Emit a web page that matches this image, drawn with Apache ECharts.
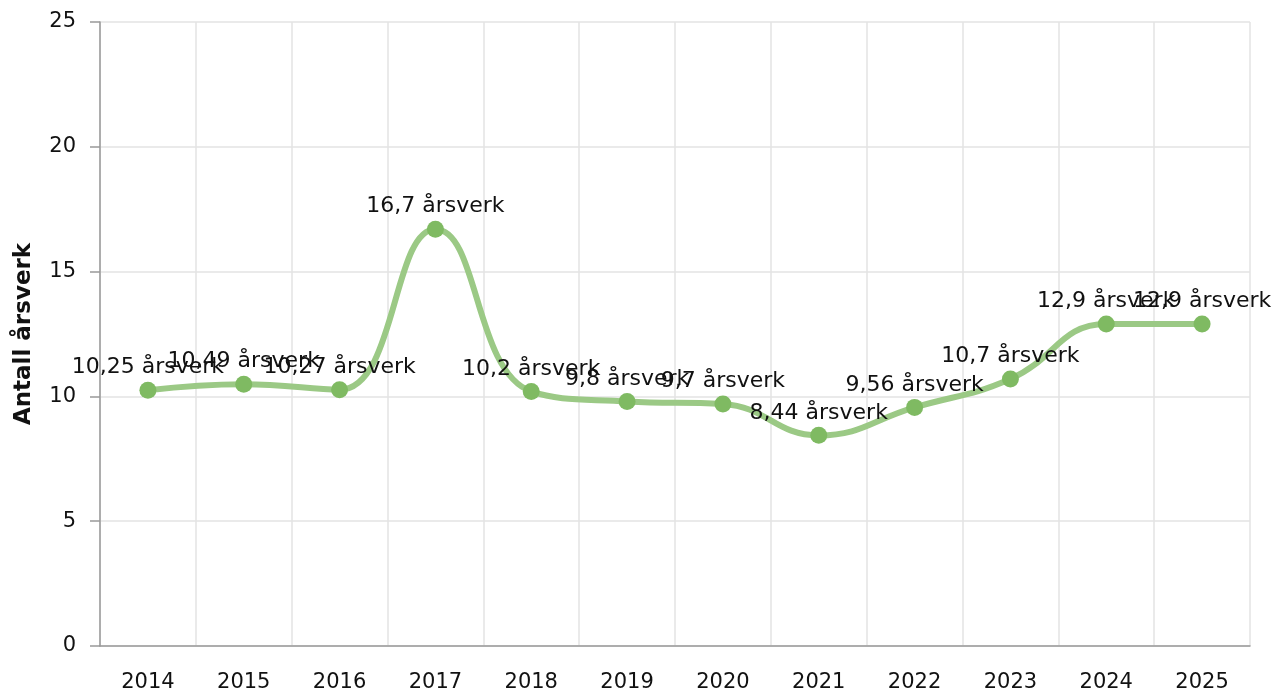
<!DOCTYPE html>
<html><head><meta charset="utf-8">
<script src="https://cdn.jsdelivr.net/npm/echarts@6/dist/echarts.min.js"></script>
<style>html,body{margin:0;padding:0;background:#fff}#c{width:1274px;height:693px}</style>
</head><body><div id="c"></div>
<script>
const years = ['2014','2015','2016','2017','2018','2019','2020','2021','2022','2023','2024','2025'];
const values = [10.25, 10.49, 10.27, 16.7, 10.2, 9.8, 9.7, 8.44, 9.56, 10.7, 12.9, 12.9];
const yTicks = [0, 5, 10, 15, 20, 25];
const unit = 'årsverk';
const yName = 'Antall årsverk';

const chart = echarts.init(document.getElementById('c'));
chart.setOption({
  animation: false,
  grid: {left: 100, right: 24, top: 22, bottom: 46},
  textStyle: {fontFamily: 'DejaVu Sans'},
  xAxis: {
    type: 'category', data: years, boundaryGap: true,
    axisLine: {lineStyle: {color: '#999', width: 1.5}},
    axisTick: {alignWithLabel: true, length: 9, lineStyle: {color: '#999', width: 1.5}},
    axisLabel: {color: '#111', fontSize: 21, margin: 26, fontFamily: 'DejaVu Sans'},
    splitLine: {show: true, lineStyle: {color: '#e3e3e3', width: 1.5}}
  },
  yAxis: {
    type: 'value', min: yTicks[0], max: yTicks[yTicks.length-1], interval: 5,
    name: yName, nameLocation: 'middle', nameGap: 64,
    nameTextStyle: {fontFamily: 'DejaVu Sans', fontWeight: 'bold', fontSize: 23, color: '#111'},
    axisLine: {show: true, lineStyle: {color: '#999', width: 1.5}},
    axisTick: {show: true, length: 10, lineStyle: {color: '#999', width: 1.5}},
    axisLabel: {color: '#111', fontSize: 21, margin: 24, fontFamily: 'DejaVu Sans'},
    splitLine: {show: true, lineStyle: {color: '#e3e3e3', width: 1.5}}
  },
  series: [{
    type: 'line', data: values, smooth: 0.45,
    symbol: 'circle', symbolSize: 17,
    lineStyle: {color: '#9bc985', width: 6},
    itemStyle: {color: '#7fba62'},
    label: {
      show: true, position: 'top', distance: 3,
      fontSize: 22, color: '#111', fontFamily: 'DejaVu Sans',
      formatter: p => String(p.value).replace('.', ',') + ' ' + unit
    }
  }]
});
</script></body></html>
